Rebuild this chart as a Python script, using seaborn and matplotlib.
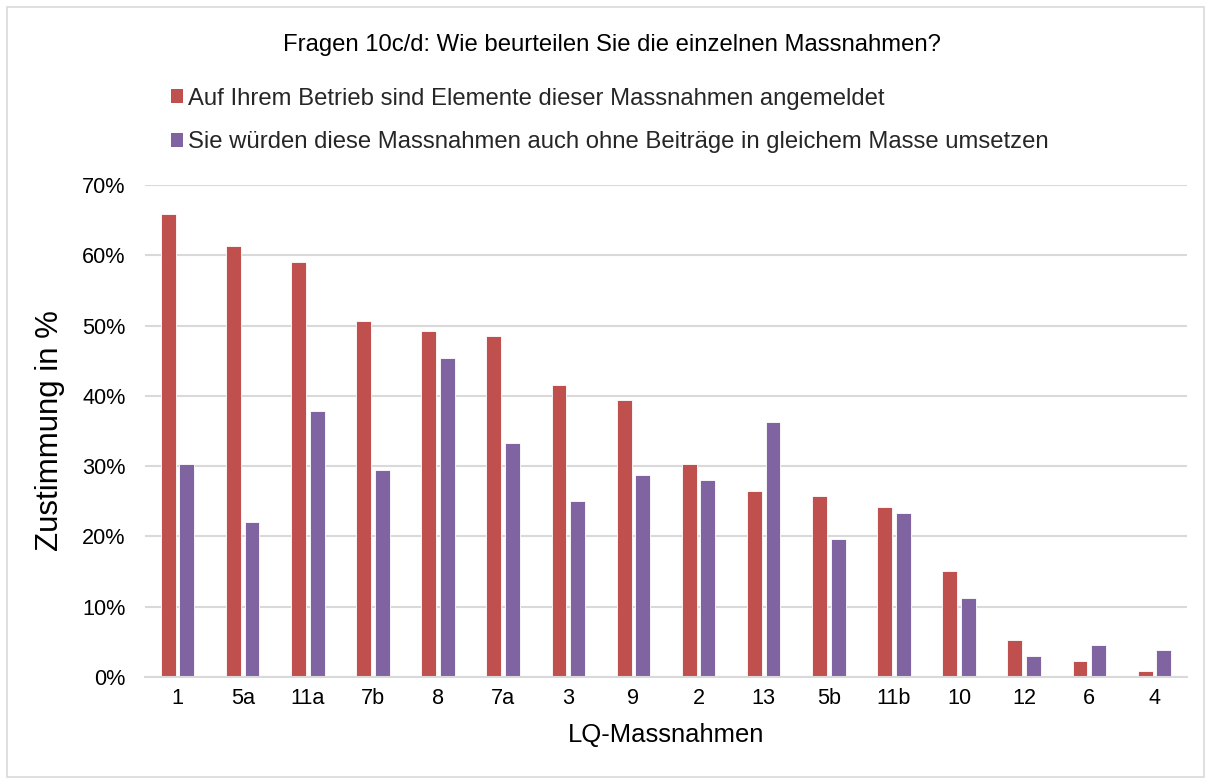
import matplotlib
matplotlib.use("Agg")
import matplotlib.pyplot as plt
import seaborn as sns
import pandas as pd
from matplotlib import font_manager
from matplotlib.patches import Rectangle, Patch
from matplotlib.ticker import PercentFormatter

categories = ["1", "5a", "11a", "7b", "8", "7a", "3", "9", "2", "13", "5b", "11b", "10", "12", "6", "4"]
angemeldet = [65.9, 61.3, 59.0, 50.7, 49.2, 48.5, 41.6, 39.4, 30.3, 26.5, 25.7, 24.2, 15.1, 5.3, 2.3, 0.8]
ohne_beitraege = [30.3, 22.0, 37.9, 29.5, 45.4, 33.3, 25.0, 28.8, 28.0, 36.3, 19.7, 23.4, 11.3, 3.0, 4.6, 3.8]
series_names = ["Auf Ihrem Betrieb sind Elemente dieser Massnahmen angemeldet",
                "Sie würden diese Massnahmen auch ohne Beiträge in gleichem Masse umsetzen"]
colors = ["#C0504D", "#8064A2"]
title = "Fragen 10c/d: Wie beurteilen Sie die einzelnen Massnahmen?"
xlabel = "LQ-Massnahmen"
ylabel = "Zustimmung in %"
yticks = [0, 10, 20, 30, 40, 50, 60, 70]

df = pd.DataFrame({
    "Massnahme": categories * 2,
    "Wert": angemeldet + ohne_beitraege,
    "Serie": [series_names[0]] * len(categories) + [series_names[1]] * len(categories),
})

sns.set_theme(style="white")
names = {f.name for f in font_manager.fontManager.ttflist}
if "Liberation Sans Narrow" in names:
    fam = "Liberation Sans Narrow"
    k = 1.0
else:
    fam = "Liberation Sans"
    k = 0.82
plt.rcParams["font.family"] = [fam, "DejaVu Sans"]

fig = plt.figure(figsize=(12.11, 7.84), dpi=100)
ax = fig.add_axes([145 / 1211, 1 - 677 / 784, (1187 - 145) / 1211, (677 - 185) / 784])

sns.barplot(data=df, x="Massnahme", y="Wert", hue="Serie", order=categories,
            hue_order=series_names, palette=colors, saturation=1, width=0.57, gap=0.2,
            edgecolor="white", linewidth=0.6, legend=False, ax=ax)

ax.set_ylim(0, 70)
ax.set_xlim(-0.5, len(categories) - 0.5)
ax.set_yticks(yticks)
ax.yaxis.set_major_formatter(PercentFormatter(decimals=0))
ax.grid(axis="y", color="#D9D9D9", linewidth=1.5)
ax.set_axisbelow(True)
for s in ["top", "right", "left"]:
    ax.spines[s].set_visible(False)
ax.spines["bottom"].set_color("#D9D9D9")
ax.spines["bottom"].set_linewidth(1.5)
ax.tick_params(axis="both", length=0, colors="black")
ax.tick_params(axis="y", pad=14, labelsize=19 * k)
ax.tick_params(axis="x", pad=8, labelsize=19 * k)
ax.set_xlabel(xlabel, fontsize=22.5 * k, color="black", labelpad=10)
ax.set_ylabel(ylabel, fontsize=22.5, color="black", labelpad=12,
              family=["Liberation Sans", "DejaVu Sans"])

fig.text(612 / 1211, 1 - 45 / 784, title, ha="center", va="center",
         fontsize=21 * k, color="black")

handles = [Patch(facecolor=c, edgecolor="none") for c in colors]
fig.legend(handles, series_names, loc="center left",
           bbox_to_anchor=(171 / 1211, 1 - 120.5 / 784), frameon=False,
           fontsize=21 * k, handlelength=0.5, handleheight=0.5,
           handletextpad=0.2, labelspacing=0.9, borderaxespad=0, borderpad=0)

fig.patches.append(Rectangle((7 / 1211, 7 / 784), 1 - 14 / 1211, 1 - 14 / 784,
                             transform=fig.transFigure, fill=False,
                             edgecolor="#D9D9D9", linewidth=1.2))

fig.savefig("out.png", dpi=100)
